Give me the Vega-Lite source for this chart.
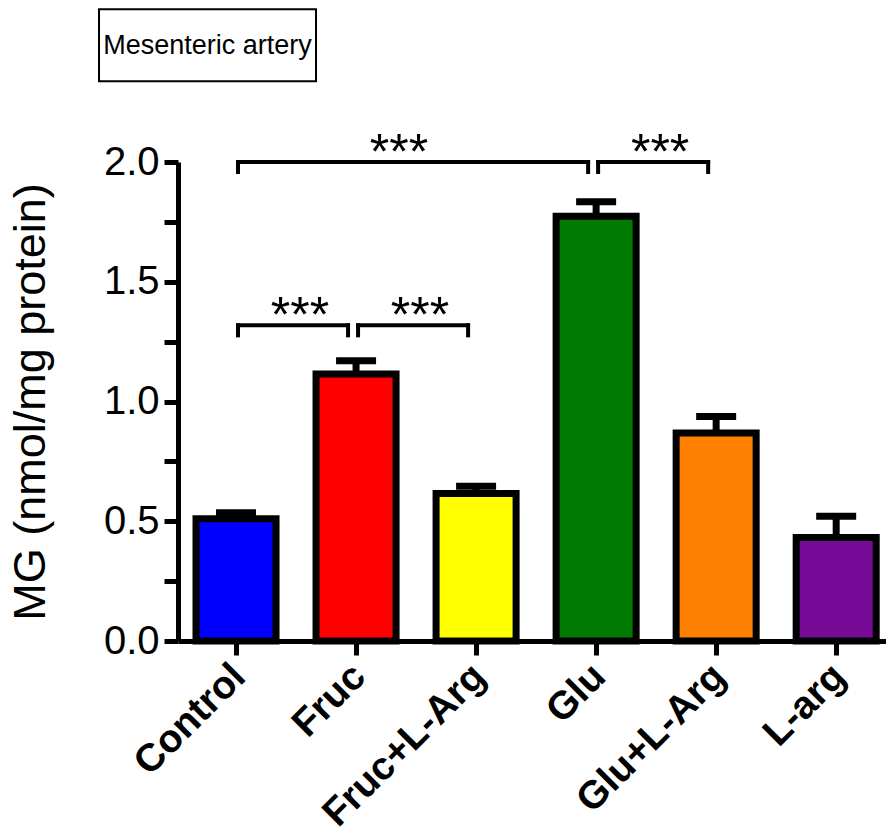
{
  "$schema": "https://vega.github.io/schema/vega-lite/v6.json",
  "width": 709,
  "height": 479,
  "padding": {"left": 8, "top": 8, "right": 0, "bottom": 0},
  "background": "white",
  "config": {
    "view": {"stroke": null},
    "font": "Liberation Sans"
  },
  "datasets": {
    "bars": [
      {"group": "Control", "mean": 0.51, "upper": 0.535},
      {"group": "Fruc", "mean": 1.115, "upper": 1.17},
      {"group": "Fruc+L-Arg", "mean": 0.616, "upper": 0.646},
      {"group": "Glu", "mean": 1.773, "upper": 1.834},
      {"group": "Glu+L-Arg", "mean": 0.868, "upper": 0.937},
      {"group": "L-arg", "mean": 0.432, "upper": 0.521}
    ],
    "brackets": [
      {"from": "Control", "to": "Glu", "y": 2.0, "label": "***"},
      {"from": "Glu", "to": "Glu+L-Arg", "y": 2.0, "label": "***"},
      {"from": "Control", "to": "Fruc", "y": 1.318, "label": "***"},
      {"from": "Fruc", "to": "Fruc+L-Arg", "y": 1.318, "label": "***"}
    ],
    "title": [{"text": "Mesenteric artery"}]
  },
  "encoding": {
    "x": {
      "field": "group",
      "type": "nominal",
      "sort": null,
      "scale": {
        "domain": ["Control", "Fruc", "Fruc+L-Arg", "Glu", "Glu+L-Arg", "L-arg"],
        "paddingInner": 0.3333,
        "paddingOuter": 0.12,
        "align": 0.625
      },
      "axis": {
        "title": null,
        "labelAngle": -45,
        "labelAlign": "right",
        "labelBaseline": "middle",
        "labelFont": "Liberation Sans",
        "labelFontSize": 39,
        "labelFontWeight": "bold",
        "labelColor": "black",
        "labelLimit": 0,
        "labelPadding": 15,
        "labelOffset": 3,
        "tickSize": 14,
        "tickWidth": 5,
        "tickColor": "black",
        "domainWidth": 5,
        "domainColor": "black",
        "grid": false
      }
    }
  },
  "layer": [
    {
      "data": {"name": "title"},
      "mark": {"type": "rect", "fill": "white", "stroke": "black", "strokeWidth": 2, "width": 217, "xOffset": -28.5},
      "encoding": {
        "x": {"datum": "Control", "type": "nominal"},
        "y": {"datum": 2.337, "type": "quantitative"},
        "y2": {"datum": 2.638}
      }
    },
    {
      "data": {"name": "title"},
      "mark": {"type": "text", "font": "Liberation Sans", "fontSize": 27, "color": "black", "align": "center", "baseline": "middle", "dx": -28.5, "dy": 1},
      "encoding": {
        "x": {"datum": "Control", "type": "nominal"},
        "y": {"datum": 2.488, "type": "quantitative"},
        "text": {"field": "text"}
      }
    },
    {
      "data": {"name": "bars"},
      "mark": {"type": "bar", "stroke": "black", "strokeWidth": 7},
      "encoding": {
        "y": {
          "field": "mean",
          "type": "quantitative",
          "scale": {"domain": [0, 2], "nice": false, "zero": true},
          "axis": {
            "title": "MG (nmol/mg protein)",
            "titleFont": "Liberation Sans",
            "titleFontSize": 45,
            "titleFontWeight": "normal",
            "titleColor": "black",
            "titlePadding": 50,
            "values": [0, 0.25, 0.5, 0.75, 1, 1.25, 1.5, 1.75, 2],
            "labelExpr": "datum.value % 0.5 === 0 ? format(datum.value, '.1f') : ''",
            "labelFont": "Liberation Sans",
            "labelFontSize": 40,
            "labelColor": "black",
            "labelPadding": 5,
            "tickSize": 14,
            "tickWidth": 5,
            "tickColor": "black",
            "domainWidth": 5,
            "domainColor": "black",
            "grid": false
          }
        },
        "color": {
          "field": "group",
          "type": "nominal",
          "scale": {
            "domain": ["Control", "Fruc", "Fruc+L-Arg", "Glu", "Glu+L-Arg", "L-arg"],
            "range": ["#0000FF", "#FF0000", "#FFFF00", "#007A00", "#FF8000", "#760A97"]
          },
          "legend": null
        }
      }
    },
    {
      "data": {"name": "bars"},
      "mark": {"type": "rule", "color": "black", "strokeWidth": 7},
      "encoding": {
        "y": {"field": "mean", "type": "quantitative"},
        "y2": {"field": "upper"}
      }
    },
    {
      "data": {"name": "bars"},
      "mark": {"type": "tick", "color": "black", "size": 40, "thickness": 7, "orient": "horizontal", "opacity": 1},
      "encoding": {
        "y": {"field": "upper", "type": "quantitative"}
      }
    },
    {
      "data": {"name": "brackets"},
      "mark": {"type": "rule", "color": "black", "strokeWidth": 4, "strokeCap": "square", "xOffset": 2, "x2Offset": -8},
      "encoding": {
        "x": {"field": "from", "type": "nominal"},
        "x2": {"field": "to"},
        "y": {"field": "y", "type": "quantitative"}
      }
    },
    {
      "data": {"name": "brackets"},
      "mark": {"type": "rule", "color": "black", "strokeWidth": 4, "strokeCap": "square", "xOffset": 2, "y2Offset": 10},
      "encoding": {
        "x": {"field": "from", "type": "nominal"},
        "y": {"field": "y", "type": "quantitative"},
        "y2": {"field": "y"}
      }
    },
    {
      "data": {"name": "brackets"},
      "mark": {"type": "rule", "color": "black", "strokeWidth": 4, "strokeCap": "square", "xOffset": -8, "y2Offset": 10},
      "encoding": {
        "x": {"field": "to", "type": "nominal"},
        "y": {"field": "y", "type": "quantitative"},
        "y2": {"field": "y"}
      }
    },
    {
      "data": {"name": "brackets"},
      "transform": [{"filter": "datum.to !== 'Glu'"}],
      "mark": {"type": "text", "fontSize": 50, "color": "black", "align": "center", "baseline": "alphabetic", "dx": 64, "dy": 7},
      "encoding": {
        "x": {"field": "from", "type": "nominal"},
        "y": {"field": "y", "type": "quantitative"},
        "text": {"field": "label"}
      }
    },
    {
      "data": {"name": "brackets"},
      "transform": [{"filter": "datum.to === 'Glu'"}],
      "mark": {"type": "text", "fontSize": 50, "color": "black", "align": "center", "baseline": "alphabetic", "dx": 163, "dy": 7},
      "encoding": {
        "x": {"field": "from", "type": "nominal"},
        "y": {"field": "y", "type": "quantitative"},
        "text": {"field": "label"}
      }
    }
  ]
}
